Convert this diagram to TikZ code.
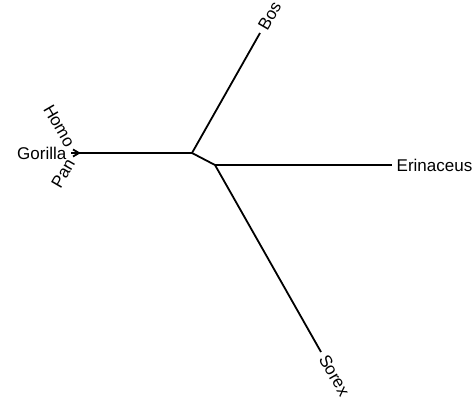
\documentclass[tikz,border=0pt]{standalone}
\usepackage{fontspec}
\setmainfont{Liberation Sans}
\begin{document}
\begin{tikzpicture}[x=1pt,y=-1pt,
  branch/.style={line width=1.8pt,line cap=butt},
  taxon/.style={font=\fontsize{17}{19}\selectfont,inner sep=4.5pt}]
\useasboundingbox (0,0) rectangle (473,398);
% internal nodes
\coordinate (root) at (192,153);
\coordinate (ins) at (215,165);
\coordinate (prim) at (79,153);
% tips
\coordinate (homo) at (73,149.5);
\coordinate (gorilla) at (71,153);
\coordinate (pan) at (73,156.5);
\coordinate (bos) at (260,33);
\coordinate (erin) at (392,165);
\coordinate (sorex) at (321,352);
% branches
\draw[branch] (root) -- (prim);
\draw[branch] (prim) -- (homo);
\draw[branch] (prim) -- (gorilla);
\draw[branch] (prim) -- (pan);
\draw[branch] (root) -- (bos);
\draw[branch] (root) -- (ins);
\draw[branch] (ins) -- (erin);
\draw[branch] (ins) -- (sorex);
% tip labels
\node[taxon,anchor=east,rotate=-60] (lhomo) at (homo) {Homo};
\node[taxon,anchor=east] (lgorilla) at (gorilla) {Gorilla};
\node[taxon,anchor=east,rotate=60] (lpan) at (pan) {Pan};
\node[taxon,anchor=west,rotate=60] (lbos) at (bos) {Bos};
\node[taxon,anchor=west] (lerin) at (erin) {Erinaceus};
\node[taxon,anchor=west,rotate=-60] (lsorex) at (sorex) {Sorex};
\end{tikzpicture}
\end{document}
